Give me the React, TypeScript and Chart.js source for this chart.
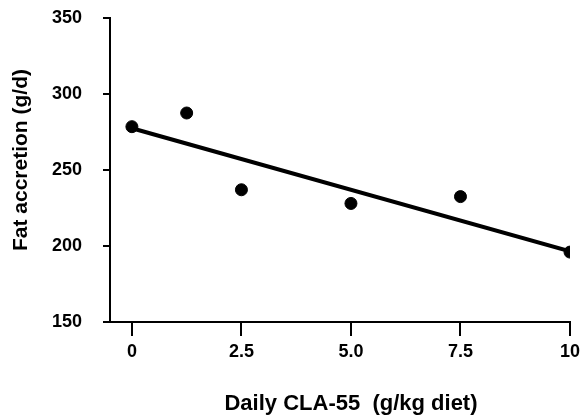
import React, { useEffect, useRef } from "react";
import { Chart, registerables } from "chart.js";

Chart.register(...registerables);

// ---- data ----
const doses = [0, 1.25, 2.5, 5, 7.5, 10];
const fatAccretion = [278.5, 287.5, 237, 228, 232.5, 196];
const fitX = [0, 10];
const fitY = [277.5, 196.5];
const xTickValues = [0, 2.5, 5, 7.5, 10];
const xTickLabels = ["0", "2.5", "5.0", "7.5", "10"];
const yTickValues = [150, 200, 250, 300, 350];
const xTitle = "Daily CLA-55  (g/kg diet)";
const yTitle = "Fat accretion (g/d)";

const FONT = '"Liberation Sans", Arial, Helvetica, sans-serif';

const titlePlugin = {
  id: "axisTitles",
  afterDraw(chart: any) {
    const { ctx, chartArea } = chart;
    ctx.save();
    ctx.fillStyle = "#000";
    ctx.textAlign = "center";
    ctx.textBaseline = "middle";
    ctx.font = `bold 22px ${FONT}`;
    ctx.fillText(xTitle, (chartArea.left + chartArea.right) / 2 + 11, chartArea.bottom + 82);
    ctx.font = `bold 21px ${FONT}`;
    ctx.translate(21, (chartArea.top + chartArea.bottom) / 2 - 10);
    ctx.rotate(-Math.PI / 2);
    ctx.fillText(yTitle, 0, 0);
    ctx.restore();
  },
};

export default function App() {
  const canvasRef = useRef<HTMLCanvasElement | null>(null);

  useEffect(() => {
    if (!canvasRef.current) return;
    const chart = new Chart(canvasRef.current, {
      type: "scatter",
      data: {
        datasets: [
          {
            label: "Fat accretion",
            data: doses.map((x, i) => ({ x, y: fatAccretion[i] })),
            backgroundColor: "#000",
            borderColor: "#000",
            pointRadius: 6,
            pointHoverRadius: 6,
            showLine: false,
          },
          {
            label: "Regression",
            type: "line",
            data: fitX.map((x, i) => ({ x, y: fitY[i] })),
            borderColor: "#000",
            backgroundColor: "#000",
            borderWidth: 4,
            pointRadius: 0,
            fill: false,
          } as any,
        ],
      },
      options: {
        animation: false,
        responsive: true,
        maintainAspectRatio: false,
        layout: { padding: { top: 18, right: 10, bottom: 0, left: 0 } },
        plugins: {
          legend: { display: false },
          tooltip: { enabled: false },
        },
        scales: {
          x: {
            type: "linear",
            min: -0.5,
            max: 10,
            afterBuildTicks: (scale: any) => {
              scale.ticks = xTickValues.map((v) => ({ value: v }));
            },
            afterFit: (scale: any) => {
              scale.height = 97;
              scale.paddingLeft = 0;
              scale.paddingRight = 0;
            },
            ticks: {
              color: "#000",
              font: { family: FONT, size: 18, weight: "bold" },
              padding: 5,
              maxRotation: 0,
              autoSkip: false,
              callback: (v: any) => {
                const i = xTickValues.indexOf(Number(v));
                return i >= 0 ? xTickLabels[i] : "";
              },
            },
            grid: {
              display: true,
              drawOnChartArea: false,
              drawTicks: true,
              tickLength: 14,
              color: "#000",
              lineWidth: 2,
            },
            border: { display: true, color: "#000", width: 2 },
          },
          y: {
            type: "linear",
            min: yTickValues[0],
            max: yTickValues[yTickValues.length - 1],
            afterBuildTicks: (scale: any) => {
              scale.ticks = yTickValues.map((v) => ({ value: v }));
            },
            afterFit: (scale: any) => {
              scale.width = 110;
              scale.paddingTop = 0;
              scale.paddingBottom = 0;
            },
            ticks: {
              color: "#000",
              font: { family: FONT, size: 18, weight: "bold" },
              padding: 21,
              callback: (v: any) => String(v),
            },
            grid: {
              display: true,
              drawOnChartArea: false,
              drawTicks: true,
              tickLength: 7,
              color: "#000",
              lineWidth: 2,
            },
            border: { display: true, color: "#000", width: 2 },
          },
        },
      },
      plugins: [titlePlugin],
    });
    return () => chart.destroy();
  }, []);

  return (
    <div style={{ position: "absolute", left: 0, top: 0, width: 580, height: 419, background: "#fff" }}>
      <canvas ref={canvasRef} />
    </div>
  );
}
